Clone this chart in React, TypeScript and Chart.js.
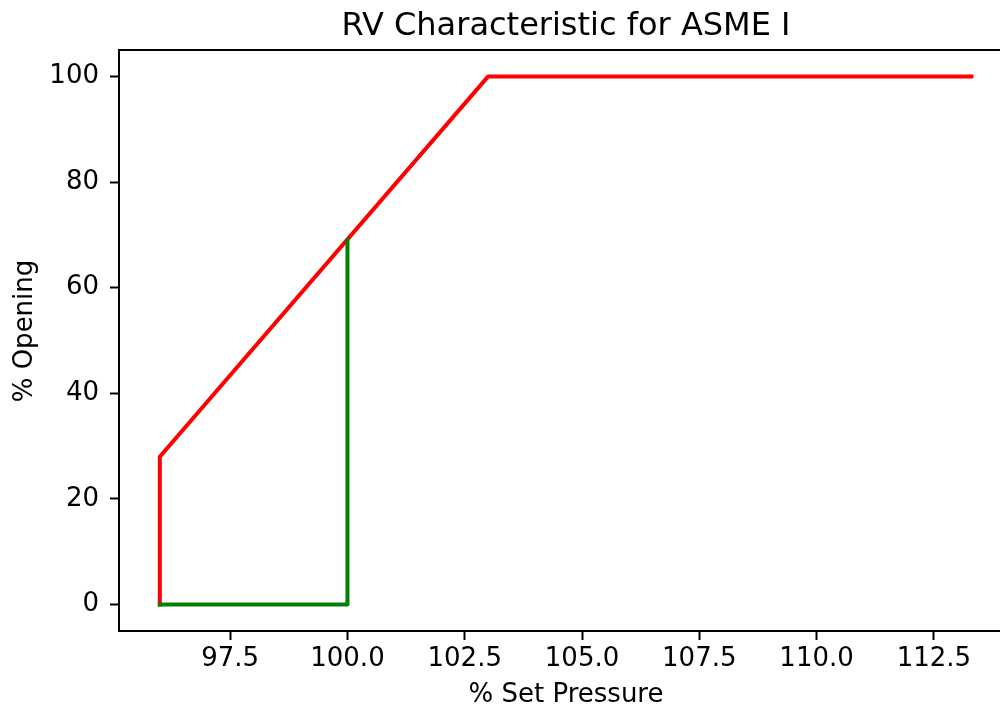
import React, { useEffect, useRef } from "react";
import { Chart, registerables } from "chart.js";

Chart.register(...registerables);

const chartTitle = "RV Characteristic for ASME I";
const xLabel = "% Set Pressure";
const yLabel = "% Opening";

const redX = [96, 96, 103, 113.3];
const redY = [0, 28, 100, 100];
const greenX = [96, 100, 100];
const greenY = [0, 0, 69];

const xTicks = [97.5, 100, 102.5, 105, 107.5, 110, 112.5];
const yTicks = [0, 20, 40, 60, 80, 100];

const FONT = "'DejaVu Sans', sans-serif";

const toPoints = (xs: number[], ys: number[]) => xs.map((x, i) => ({ x, y: ys[i] }));

const textPlugin = {
  id: "mplText",
  afterDraw(chart: any) {
    const { ctx, chartArea } = chart;
    ctx.save();
    ctx.fillStyle = "#000";
    // top spine
    ctx.strokeStyle = "#000";
    ctx.lineWidth = 2;
    ctx.beginPath();
    ctx.moveTo(chartArea.left - 1, chartArea.top);
    ctx.lineTo(chart.width, chartArea.top);
    ctx.stroke();
    // title
    ctx.font = `32px ${FONT}`;
    ctx.textAlign = "center";
    ctx.textBaseline = "alphabetic";
    ctx.fillText(chartTitle, 566, 35);
    // x label
    ctx.font = `26px ${FONT}`;
    ctx.fillText(xLabel, 566, 702);
    // y label
    ctx.translate(32, 331);
    ctx.rotate(-Math.PI / 2);
    ctx.fillText(yLabel, 0, 0);
    ctx.restore();
  },
};

export default function App() {
  const ref = useRef<HTMLCanvasElement | null>(null);
  useEffect(() => {
    if (!ref.current) return;
    const chart = new Chart(ref.current, {
      type: "line",
      data: {
        datasets: [
          {
            label: "green",
            data: toPoints(greenX, greenY),
            borderColor: "#008000",
            backgroundColor: "#008000",
            borderWidth: 4,
            pointRadius: 0,
            tension: 0,
            borderCapStyle: "square",
            borderJoinStyle: "round",
          },
          {
            label: "red",
            data: toPoints(redX, redY),
            borderColor: "#ff0000",
            backgroundColor: "#ff0000",
            borderWidth: 4,
            pointRadius: 0,
            tension: 0,
            borderCapStyle: "square",
            borderJoinStyle: "round",
          },
        ],
      },
      options: {
        animation: false,
        responsive: false,
        maintainAspectRatio: false,
        layout: { padding: { top: 50, left: 0, right: 0, bottom: 0 } },
        plugins: {
          legend: { display: false },
          title: { display: false },
          tooltip: { enabled: false },
        },
        scales: {
          x: {
            type: "linear",
            min: 95.13,
            max: 113.91,
            afterFit: (s: any) => {
              s.height = 77;
            },
            afterBuildTicks: (s: any) => {
              s.ticks = xTicks.map((v) => ({ value: v }));
            },
            ticks: {
              autoSkip: false,
              maxRotation: 0,
              padding: 4,
              color: "#000",
              font: { family: FONT, size: 26 },
              callback: (v: any) => Number(v).toFixed(1),
            },
            grid: {
              drawOnChartArea: false,
              drawTicks: true,
              tickLength: 9,
              tickWidth: 2,
              tickColor: "#000",
            },
            border: { display: true, color: "#000", width: 2 },
          },
          y: {
            type: "linear",
            min: -5,
            max: 105,
            afterFit: (s: any) => {
              s.width = 119;
            },
            afterBuildTicks: (s: any) => {
              s.ticks = yTicks.map((v) => ({ value: v }));
            },
            ticks: {
              autoSkip: false,
              padding: 11,
              color: "#000",
              font: { family: FONT, size: 26 },
              callback: (v: any) => String(v),
            },
            grid: {
              drawOnChartArea: false,
              drawTicks: true,
              tickLength: 9,
              tickWidth: 2,
              tickColor: "#000",
            },
            border: { display: true, color: "#000", width: 2 },
          },
        },
      },
      plugins: [textPlugin],
    });
    return () => chart.destroy();
  }, []);
  return (
    <div style={{ position: "absolute", left: 0, top: 0, width: 1000, height: 708, background: "#fff" }}>
      <canvas ref={ref} width={1000} height={708} style={{ display: "block", width: 1000, height: 708 }} />
    </div>
  );
}
